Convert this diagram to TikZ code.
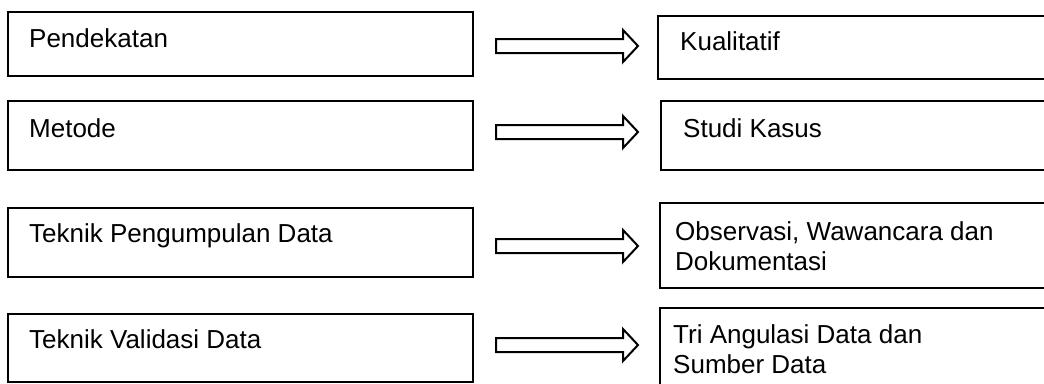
\documentclass[tikz,border=0pt]{standalone}
\usepackage{fontspec}
\setmainfont{Liberation Sans}
\begin{document}
\begin{tikzpicture}[x=1pt,y=-1pt,
  box/.style={draw=black, line width=1.5pt, fill=white},
  txt/.style={anchor=base west, inner sep=0pt, align=left, font=\fontsize{26}{29.5}\selectfont},
  blockarrow/.pic={\draw[line width=2pt, fill=white, line join=miter]
     (0,-7) -- (127,-7) -- (127,-16) -- (142,0) -- (127,16) -- (127,7) -- (0,7) -- cycle;}]
\useasboundingbox (0,0) rectangle (1044,383);
% left boxes
\draw[box] (8,12) rectangle (473,76);
\draw[box] (8,101) rectangle (473,170);
\draw[box] (8,208) rectangle (473,277);
\draw[box] (8,314) rectangle (473,382);
% right boxes
\draw[box] (658,16) rectangle (1060,79);
\draw[box] (661,101) rectangle (1060,170);
\draw[box] (660,203) rectangle (1060,288);
\draw[box] (660,308) rectangle (1060,400);
% texts
\node[txt] (t1) at (29,47) {Pendekatan};
\node[txt] (t2) at (29,137) {Metode};
\node[txt] (t3) at (29,242) {Teknik Pengumpulan Data};
\node[txt] (t4) at (29,348) {Teknik Validasi Data};
\node[txt] (r1) at (680,50) {Kualitatif};
\node[txt] (r2) at (683,137) {Studi Kasus};
\node[txt] (r3) at (675,270) {Observasi, Wawancara dan\\Dokumentasi};
\node[txt] (r4) at (673,373) {Tri Angulasi Data dan\\Sumber Data};
% arrows
\coordinate (a1) at (496,46);
\coordinate (a2) at (496,132);
\coordinate (a3) at (496,246);
\coordinate (a4) at (496,345);
\pic at (a1) {blockarrow};
\pic at (a2) {blockarrow};
\pic at (a3) {blockarrow};
\pic at (a4) {blockarrow};
\end{tikzpicture}
\end{document}
